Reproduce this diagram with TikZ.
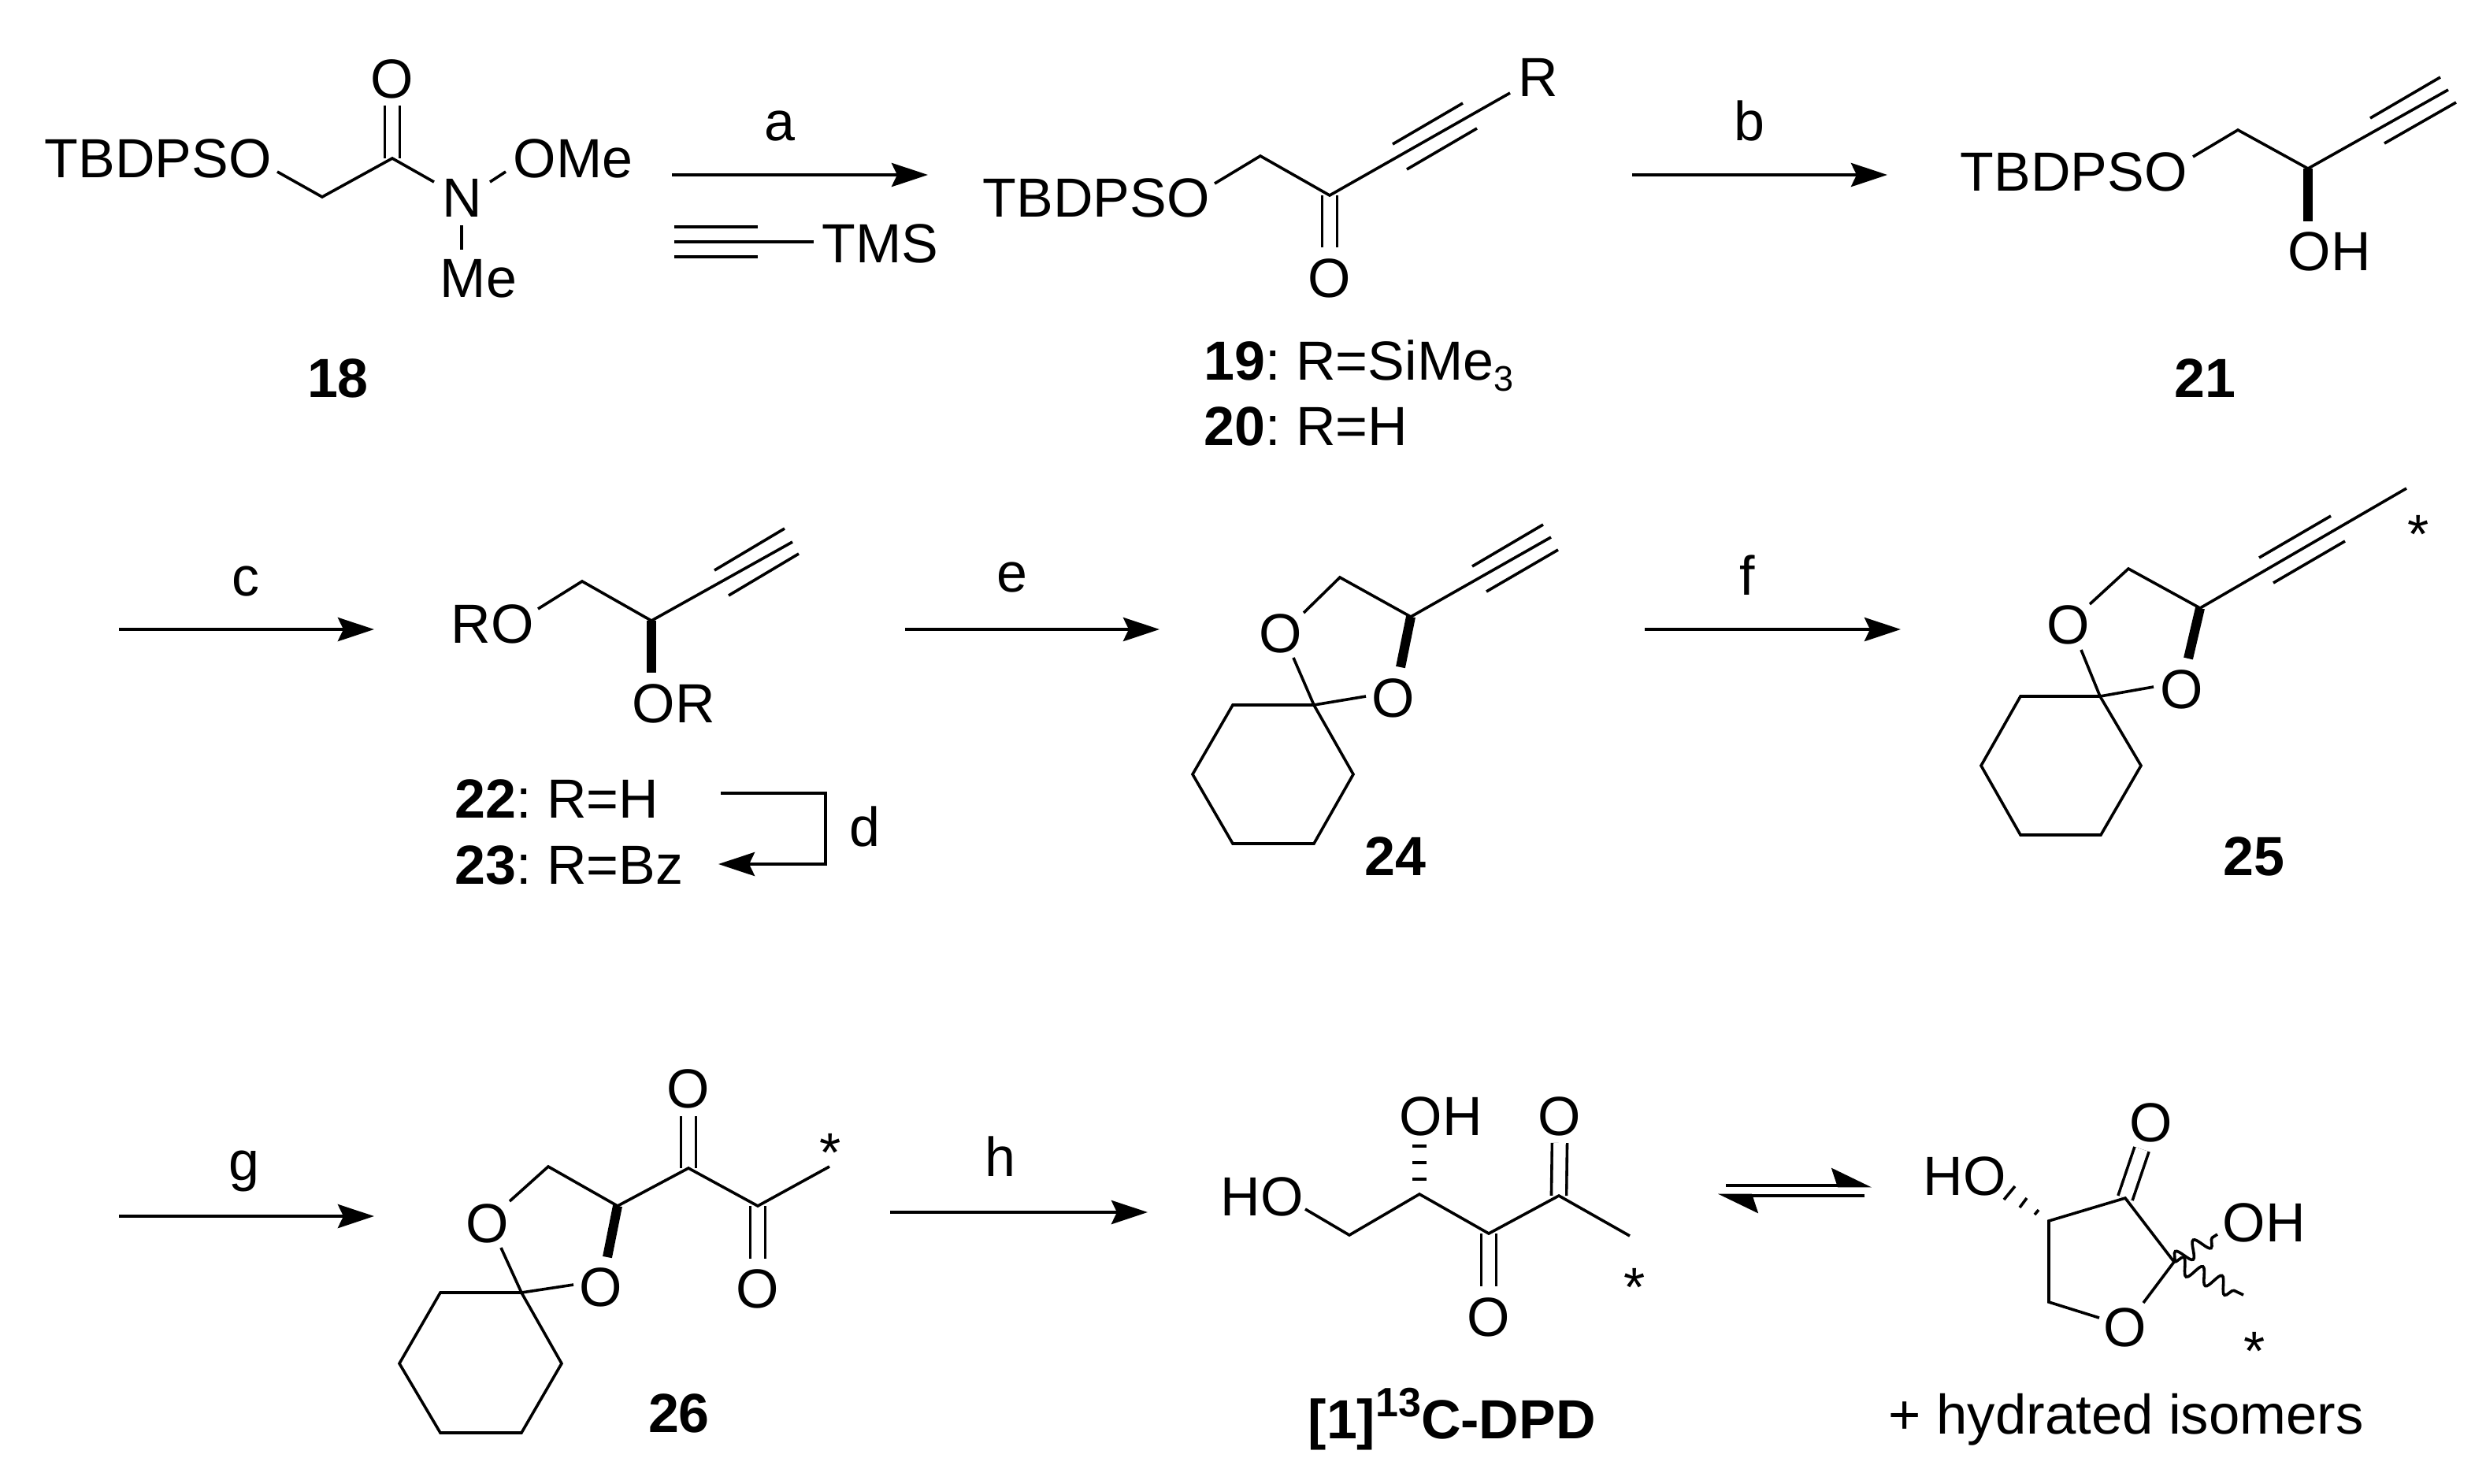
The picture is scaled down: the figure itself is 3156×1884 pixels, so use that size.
\documentclass[tikz,border=0pt]{standalone}
\usepackage{fontspec}
\setmainfont{Liberation Sans}
\usepackage{tikz}
\usetikzlibrary{positioning,arrows.meta,calc,decorations.pathmorphing}
\tikzset{
    lbl/.style={inner sep=0pt,anchor=base,font=\fontsize{19.9pt}{24pt}\selectfont},
    lblw/.style={lbl,anchor=base west},
    cpd/.style={lbl,font=\fontsize{19.9pt}{24pt}\selectfont\bfseries},
    bond/.style={line width=0.036cm},
    dbl/.style={line width=0.036cm,double,double distance=0.155cm},
    bold/.style={line width=0.12cm},
    wavy/.style={bond,decorate,decoration={snake,amplitude=0.105cm,segment length=0.27cm}},
    rxn/.style={line width=0.046cm,-{Stealth[length=0.46cm,width=0.3cm,inset=0.07cm]}},
    eqm/.style={line width=0.046cm,-{Stealth[harpoon,length=0.46cm,width=0.44cm,inset=0.07cm]}}
}
\newcommand{\subsm}[1]{\raisebox{-0.14cm}{\fontsize{12.8pt}{14pt}\selectfont #1}}
\newcommand{\supsm}[1]{\raisebox{0.28cm}{\fontsize{14.8pt}{16pt}\selectfont #1}}
\newcommand{\gapsm}{\hspace{0.195cm}}
\begin{document}
\begin{tikzpicture}[x=0.01cm,y=-0.01cm]
    \useasboundingbox (0,0) rectangle (3156,1884);
    % 18
    \node[lblw] (tb18) at (56,225) {TBDPSO};
    \node[lbl] (o18) at (498,124) {O};
    \node[lbl] (n18) at (587,275) {N};
    \node[lblw] (ome18) at (651,225) {OMe};
    \node[lblw] (me18) at (558,377) {Me};
    \node[cpd] (l18) at (429,504) {18};
    \coordinate (a18) at (352,218);
    \coordinate (b18) at (409,250);
    \coordinate (c18) at (498,201);
    \coordinate (d18) at (551,231);
    \coordinate (e18) at (498,134);
    \draw[dbl] (c18) -- (e18);
    \draw[bond] (a18) -- (b18) -- (c18) -- (d18);
    \coordinate (f18) at (622,231);
    \coordinate (g18) at (642,218);
    \draw[bond] (f18) -- (g18);
    \coordinate (h18) at (586,286);
    \coordinate (i18) at (586,317);
    \draw[bond] (h18) -- (i18);
    % a
    \coordinate (a1) at (853,222);
    \coordinate (a2) at (1178,222);
    \draw[rxn] (a1) -- (a2);
    \node[lbl] (la) at (990,178) {a};
    \node[lblw] (tms) at (1043,333) {TMS};
    \coordinate (r1) at (856,288);
    \coordinate (r2) at (962,288);
    \coordinate (r3) at (856,307);
    \coordinate (r4) at (1033,307);
    \coordinate (r5) at (856,326);
    \coordinate (r6) at (962,326);
    \draw[bond] (r1) -- (r2);
    \draw[bond] (r3) -- (r4);
    \draw[bond] (r5) -- (r6);
    % 19, 20
    \node[lblw] (tb19) at (1247,275) {TBDPSO};
    \node[lbl] (o19) at (1688,377) {O};
    \node[lblw] (r19) at (1927,122) {R};
    \node[lblw] (l19) at (1528,482) {\textbf{19}:\gapsm R=SiMe\subsm{3}};
    \node[lblw] (l20) at (1528,565) {\textbf{20}:\gapsm R=H};
    \coordinate (a19) at (1542,233);
    \coordinate (b19) at (1600,198);
    \coordinate (c19) at (1688,248);
    \coordinate (d19) at (1917,118);
    \coordinate (e19) at (1688,314);
    \coordinate (f19) at (1768,183);
    \coordinate (g19) at (1857,131);
    \coordinate (h19) at (1786,215);
    \coordinate (i19) at (1875,163);
    \draw[dbl] (c19) -- (e19);
    \draw[bond] (a19) -- (b19) -- (c19) -- (d19);
    \draw[bond] (f19) -- (g19);
    \draw[bond] (h19) -- (i19);
    % b
    \coordinate (b1) at (2072,222);
    \coordinate (b2) at (2396,222);
    \draw[rxn] (b1) -- (b2);
    \node[lbl] (lb) at (2221,178) {b};
    % 21
    \node[lblw] (tb21) at (2488,242) {TBDPSO};
    \node[lblw] (oh21) at (2904,343) {OH};
    \node[cpd] (l21) at (2799,504) {21};
    \coordinate (a21) at (2784,199);
    \coordinate (b21) at (2841,165);
    \coordinate (c21) at (2930,214);
    \coordinate (d21) at (3108,114);
    \coordinate (e21) at (3009,150);
    \coordinate (f21) at (3098,98);
    \coordinate (g21) at (3027,182);
    \coordinate (h21) at (3118,130);
    \coordinate (i21) at (2930,281);
    \draw[bond] (a21) -- (b21) -- (c21) -- (d21);
    \draw[bond] (e21) -- (f21);
    \draw[bond] (g21) -- (h21);
    \draw[bold] (c21) -- (i21);
    % c
    \coordinate (c1) at (151,799);
    \coordinate (c2) at (475,799);
    \draw[rxn] (c1) -- (c2);
    \node[lbl] (lc) at (312,756) {c};
    % 22, 23
    \node[lblw] (ro22) at (572,816) {RO};
    \node[lblw] (or22) at (802,917) {OR};
    \node[lblw] (l22) at (577,1038) {\textbf{22}:\gapsm R=H};
    \node[lblw] (l23) at (577,1122) {\textbf{23}:\gapsm R=Bz};
    \coordinate (a22) at (683,773);
    \coordinate (b22) at (739,738);
    \coordinate (c22) at (827,788);
    \coordinate (d22) at (1006,688);
    \coordinate (e22) at (907,724);
    \coordinate (f22) at (996,671);
    \coordinate (g22) at (925,756);
    \coordinate (h22) at (1014,703);
    \coordinate (i22) at (827,854);
    \draw[bond] (a22) -- (b22) -- (c22) -- (d22);
    \draw[bond] (e22) -- (f22);
    \draw[bond] (g22) -- (h22);
    \draw[bold] (c22) -- (i22);
    % d
    \coordinate (d1) at (915,1007);
    \coordinate (d2) at (1048,1007);
    \coordinate (d3) at (1048,1097);
    \coordinate (d4) at (912,1097);
    \draw[rxn] (d1) -- (d2) -- (d3) -- (d4);
    \node[lbl] (ld) at (1098,1074) {d};
    % e
    \coordinate (e1) at (1149,799);
    \coordinate (e2) at (1472,799);
    \draw[rxn] (e1) -- (e2);
    \node[lbl] (le) at (1285,751) {e};
    % 24
    \node[lbl] (oa24) at (1626,828) {O};
    \node[lbl] (ob24) at (1769,910) {O};
    \node[cpd] (l24) at (1771,1111) {24};
    \coordinate (a24) at (1655,778);
    \coordinate (b24) at (1701,733);
    \coordinate (c24) at (1791,783);
    \coordinate (d24) at (1969,682);
    \coordinate (e24) at (1869,719);
    \coordinate (f24) at (1959,666);
    \coordinate (g24) at (1887,751);
    \coordinate (h24) at (1978,698);
    \coordinate (i24) at (1778,847);
    \coordinate (j24) at (1642,835);
    \coordinate (k24) at (1734,884);
    \coordinate (s24) at (1668,895);
    \coordinate (t24) at (1718,983);
    \coordinate (u24) at (1668,1071);
    \coordinate (v24) at (1565,1071);
    \coordinate (w24) at (1514,983);
    \coordinate (x24) at (1565,895);
    \draw[bond] (a24) -- (b24) -- (c24) -- (d24);
    \draw[bond] (e24) -- (f24);
    \draw[bond] (g24) -- (h24);
    \draw[bold] (c24) -- (i24);
    \draw[bond] (j24) -- (s24) -- (k24);
    \draw[bond] (s24) -- (t24) -- (u24) -- (v24) -- (w24) -- (x24) -- cycle;
    % f
    \coordinate (f1) at (2088,799);
    \coordinate (f2) at (2413,799);
    \draw[rxn] (f1) -- (f2);
    \node[lbl] (lf) at (2218,755) {f};
    % 25
    \node[lbl] (oa25) at (2626,817) {O};
    \node[lbl] (ob25) at (2770,899) {O};
    \node[cpd] (l25) at (2861,1111) {25};
    \node[lbl] (st25) at (3070,702) {*};
    \coordinate (a25) at (2653,767);
    \coordinate (b25) at (2702,722);
    \coordinate (c25) at (2793,772);
    \coordinate (d25) at (3055,620);
    \coordinate (e25) at (2868,708);
    \coordinate (f25) at (2959,655);
    \coordinate (g25) at (2886,740);
    \coordinate (h25) at (2977,687);
    \coordinate (i25) at (2778,836);
    \coordinate (j25) at (2642,825);
    \coordinate (k25) at (2734,872);
    \coordinate (s25) at (2666,884);
    \coordinate (t25) at (2718,972);
    \coordinate (u25) at (2667,1060);
    \coordinate (v25) at (2565,1060);
    \coordinate (w25) at (2515,972);
    \coordinate (x25) at (2565,884);
    \draw[bond] (a25) -- (b25) -- (c25) -- (d25);
    \draw[bond] (e25) -- (f25);
    \draw[bond] (g25) -- (h25);
    \draw[bold] (c25) -- (i25);
    \draw[bond] (j25) -- (s25) -- (k25);
    \draw[bond] (s25) -- (t25) -- (u25) -- (v25) -- (w25) -- (x25) -- cycle;
    % g
    \coordinate (g1) at (151,1544);
    \coordinate (g2) at (475,1544);
    \draw[rxn] (g1) -- (g2);
    \node[lbl] (lg) at (310,1498) {g};
    % 26
    \node[lbl] (oa26) at (619,1577) {O};
    \node[lbl] (ob26) at (763,1658) {O};
    \node[lbl] (oc26) at (874,1406) {O};
    \node[lbl] (od26) at (962,1660) {O};
    \node[lbl] (st26) at (1054,1487) {*};
    \node[cpd] (l26) at (862,1818) {26};
    \coordinate (a26) at (647,1525);
    \coordinate (b26) at (696,1481);
    \coordinate (c26) at (784,1531);
    \coordinate (d26) at (874,1483);
    \coordinate (e26) at (962,1531);
    \coordinate (f26) at (1053,1481);
    \coordinate (g26) at (874,1417);
    \coordinate (h26) at (962,1598);
    \coordinate (i26) at (771,1596);
    \coordinate (j26) at (636,1584);
    \coordinate (k26) at (728,1631);
    \coordinate (s26) at (662,1641);
    \coordinate (t26) at (713,1731);
    \coordinate (u26) at (662,1819);
    \coordinate (v26) at (559,1819);
    \coordinate (w26) at (507,1731);
    \coordinate (x26) at (559,1641);
    \draw[dbl] (d26) -- (g26);
    \draw[dbl] (e26) -- (h26);
    \draw[bond] (a26) -- (b26) -- (c26) -- (d26) -- (e26) -- (f26);
    \draw[bold] (c26) -- (i26);
    \draw[bond] (j26) -- (s26) -- (k26);
    \draw[bond] (s26) -- (t26) -- (u26) -- (v26) -- (w26) -- (x26) -- cycle;
    % h
    \coordinate (h1) at (1130,1539);
    \coordinate (h2) at (1457,1539);
    \draw[rxn] (h1) -- (h2);
    \node[lbl] (lh) at (1270,1493) {h};
    % DPD
    \node[lblw] (ho1) at (1549,1543) {HO};
    \node[lblw] (oh1) at (1776,1441) {OH};
    \node[lbl] (oa1) at (1980,1441) {O};
    \node[lbl] (ob1) at (1890,1696) {O};
    \node[lbl] (st1) at (2075,1658) {*};
    \node[cpd,anchor=base west] (l1) at (1660,1826) {[1]\supsm{13}C-DPD};
    \coordinate (a1d) at (1657,1535);
    \coordinate (b1d) at (1713,1568);
    \coordinate (c1d) at (1802,1516);
    \coordinate (d1d) at (1890,1566);
    \coordinate (e1d) at (1979,1518);
    \coordinate (f1d) at (2069,1569);
    \coordinate (g1d) at (1980,1451);
    \coordinate (h1d) at (1890,1633);
    \draw[dbl] (e1d) -- (g1d);
    \draw[dbl] (d1d) -- (h1d);
    \draw[bond] (a1d) -- (b1d) -- (c1d) -- (d1d) -- (e1d) -- (f1d);
    \foreach \d in {19,40,61}
        \draw[line width=0.045cm] ($(c1d)+(-9,-\d)$) -- ($(c1d)+(9,-\d)$);
    % equilibrium
    \coordinate (q1) at (2191,1505);
    \coordinate (q2) at (2376,1505);
    \coordinate (q3) at (2367,1518);
    \coordinate (q4) at (2181,1518);
    \draw[eqm] (q1) -- (q2);
    \draw[eqm] (q3) -- (q4);
    % furanone
    \node[lblw] (ho2) at (2441,1517) {HO};
    \node[lbl] (oa2) at (2731,1449) {O};
    \node[lbl] (ob2) at (2698,1709) {O};
    \node[lblw] (oh2) at (2821,1576) {OH};
    \node[lbl] (st2) at (2862,1739) {*};
    \node[lblw,font=\fontsize{20.1pt}{24pt}\selectfont] (iso) at (2397,1820) {+ hydrated isomers};
    \coordinate (a2f) at (2601,1550);
    \coordinate (b2f) at (2698,1521);
    \coordinate (c2f) at (2760,1602);
    \coordinate (d2f) at (2721,1654);
    \coordinate (e2f) at (2665,1673);
    \coordinate (f2f) at (2601,1653);
    \coordinate (g2f) at (2719,1459);
    \coordinate (h2f) at (2815,1567);
    \coordinate (i2f) at (2848,1644);
    \draw[dbl] (b2f) -- (g2f);
    \draw[bond] (e2f) -- (f2f) -- (a2f) -- (b2f) -- (c2f) -- (d2f);
    \draw[bond] ($(a2f)+(-18,-8)$) -- ($(a2f)+(-13,-14)$);
    \draw[bond] ($(a2f)+(-37,-17)$) -- ($(a2f)+(-28,-29)$);
    \draw[bond] ($(a2f)+(-57,-27)$) -- ($(a2f)+(-43,-44)$);
    \draw[wavy] (c2f) -- (h2f);
    \draw[wavy] (c2f) -- (i2f);
\end{tikzpicture}
\end{document}
